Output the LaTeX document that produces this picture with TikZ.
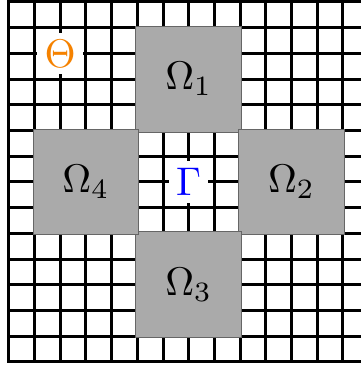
\documentclass[tikz,border=0pt]{standalone}
\definecolor{regiongray}{RGB}{170,170,170}
\definecolor{thetaorange}{RGB}{245,130,0}
\begin{document}
\begin{tikzpicture}[x=25.7pt,y=-25.7pt,
  gridline/.style={line width=3pt},
  region/.style={fill=regiongray, draw=black!60, line width=0.7pt,
    minimum width=105.8pt, minimum height=105.8pt, inner sep=0pt},
  lab/.style={scale=4.0, inner sep=1.8pt}]
\useasboundingbox (-0.3424,-0.0778) rectangle (13.704,14.202);
\clip (-0.3424,-0.0778) rectangle (13.704,14.202);
% grid
\foreach \i in {1,...,13} {
  \draw[gridline] (\i,0) -- (\i,14);
  \draw[gridline] (0,\i) -- (14,\i);
}
\draw[gridline, line cap=rect] (0,0) rectangle (14,14);
% regions
\node[region] (R1) at (7,3) {};
\node[region] (R2) at (11,7) {};
\node[region] (R3) at (7,11) {};
\node[region] (R4) at (3,7) {};
% labels
\node[lab] (O1) at (R1.center) {$\Omega_1$};
\node[lab] (O2) at (R2.center) {$\Omega_2$};
\node[lab] (O3) at (R3.center) {$\Omega_3$};
\node[lab] (O4) at (R4.center) {$\Omega_4$};
\node[lab, fill=white, text=thetaorange] (Th) at (2,2) {$\Theta$};
\node[lab, fill=white, text=blue] (G) at (7,7) {$\Gamma$};
\end{tikzpicture}
\end{document}
